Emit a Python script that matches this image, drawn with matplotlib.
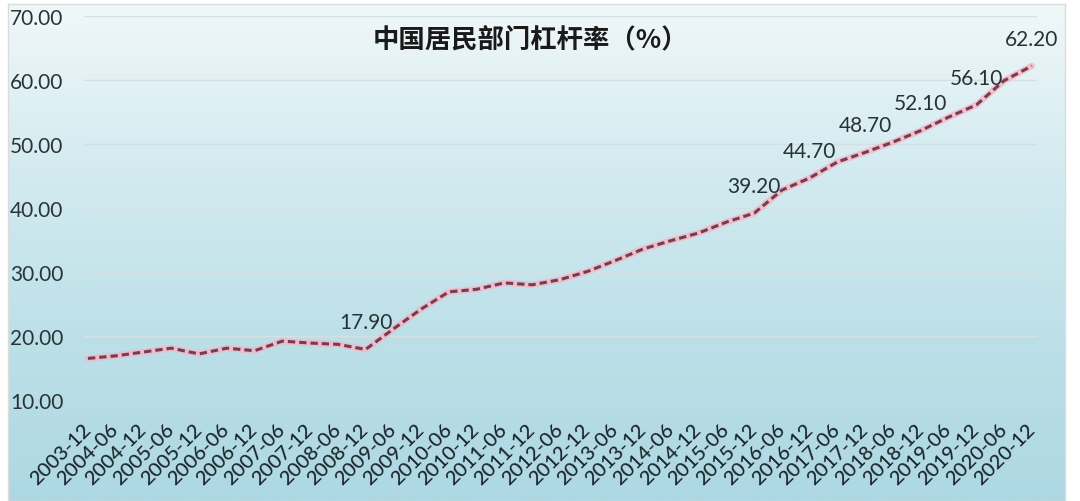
import numpy as np
import matplotlib
matplotlib.use("Agg")
import matplotlib.pyplot as plt
from matplotlib.colors import LinearSegmentedColormap

# ---- data ----
periods = ["2003-12", "2004-06", "2004-12", "2005-06", "2005-12", "2006-06", "2006-12",
           "2007-06", "2007-12", "2008-06", "2008-12", "2009-06", "2009-12", "2010-06",
           "2010-12", "2011-06", "2011-12", "2012-06", "2012-12", "2013-06", "2013-12",
           "2014-06", "2014-12", "2015-06", "2015-12", "2016-06", "2016-12", "2017-06",
           "2017-12", "2018-06", "2018-12", "2019-06", "2019-12", "2020-06", "2020-12"]
leverage = [16.5, 16.9, 17.5, 18.1, 17.2, 18.1, 17.7,
            19.2, 18.9, 18.7, 17.9, 21.1, 24.2, 26.9,
            27.3, 28.3, 28.0, 28.8, 30.1, 31.8, 33.6,
            34.9, 36.1, 37.8, 39.2, 42.8, 44.7, 47.2,
            48.7, 50.3, 52.1, 54.2, 56.1, 59.9, 62.2]
labeled_periods = ["2008-12", "2015-12", "2016-12", "2017-12", "2018-12", "2019-12", "2020-12"]
yticks = [10, 20, 30, 40, 50, 60, 70]
title = "中国居民部门杠杆率（%）"

W, H = 1080, 502
fig = plt.figure(figsize=(W / 100, H / 100), dpi=100)
fig.patch.set_facecolor("white")

# background panel with gradient
bg = fig.add_axes([8 / W, 0, (1065 - 8) / W, 1 - 5 / H])
cmap = LinearSegmentedColormap.from_list("bg", ["#f0f7f9", "#d3ebf0", "#bde0e8", "#add8e3"])
grad = np.linspace(0, 1, 256).reshape(-1, 1)
bg.imshow(grad, aspect="auto", cmap=cmap, extent=[0, 1, 0, 1], origin="upper")
bg.set_xlim(0, 1)
bg.set_ylim(0, 1)
bg.set_xticks([])
bg.set_yticks([])
for s in bg.spines.values():
    s.set_color("#dcdcdc")
    s.set_linewidth(1.0)
bg.set_zorder(0)

# main axes
left_px, right_px = 83.8, 1037.4
top_px, bot_px = 17, 401
ax = fig.add_axes([left_px / W, 1 - bot_px / H, (right_px - left_px) / W, (bot_px - top_px) / H])
ax.set_zorder(1)
ax.patch.set_alpha(0)

x = np.arange(len(periods))
ax.plot(x, leverage, color="#f6b3c2", lw=4.6, alpha=0.75, solid_capstyle="round", zorder=3)
ax.plot(x, leverage, color="#7a3a50", lw=2.2, linestyle=(0, (2.4, 1.3)), zorder=4)

ax.set_xlim(-0.15, 34.2)
ax.set_ylim(10, 70)
ax.set_yticks(yticks)
ax.set_yticklabels([f"{v:.2f}" for v in yticks])
ax.set_xticks(x)
ax.set_xticklabels(periods)
ax.grid(axis="y", color="#d3e0e4", lw=1.0)
ax.set_axisbelow(True)
for s in ax.spines.values():
    s.set_visible(False)
ax.tick_params(axis="both", length=0)
ax.tick_params(axis="y", pad=53, labelsize=15, labelcolor="#2a3438")
ax.tick_params(axis="x", pad=19, labelsize=14.5, labelcolor="#1a252b")
for lab in ax.get_yticklabels():
    lab.set_ha("left")
    lab.set_fontfamily("Lato")
for lab in ax.get_xticklabels():
    lab.set_rotation(45)
    lab.set_ha("right")
    lab.set_va("center")
    lab.set_rotation_mode("anchor")
    lab.set_fontfamily("Lato")
    lab.set_fontweight("medium")

for p in labeled_periods:
    i = periods.index(p)
    ax.annotate(f"{leverage[i]:.2f}", (i, leverage[i]), xytext=(0, 19.5),
                textcoords="offset points", ha="center", va="center",
                fontsize=15, color="#263236", family="Lato", zorder=5)

fig.text(530 / W, 1 - 40 / H, title, ha="center", va="center", fontsize=19,
         fontweight="bold", color="#1a1a1a", family=["Noto Sans CJK SC", "DejaVu Sans"])

fig.savefig("out.png", dpi=100)
